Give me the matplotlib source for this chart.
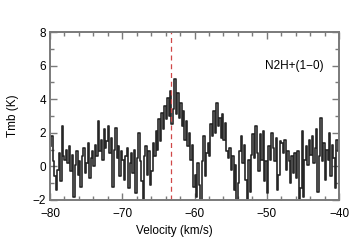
import numpy as np
import matplotlib
matplotlib.use('Agg')
import matplotlib.pyplot as plt
from matplotlib.ticker import MultipleLocator

plt.rcParams['font.family'] = ['Liberation Sans', 'DejaVu Sans']

# spectrum, 0.2 km/s channels from -80 to -40 km/s
v_start = -80.0
dv = 0.2
tmb = [
    1.2, 1.8, 0.3, -0.6, -1.4, -0.2, 0.8, -0.9, 2.4, 0.6,
    0.4, 1.0, 0.2, 1.2, -0.3, 0.7, -1.8, 0.1, 0.9, -0.5,
    0.3, -1.2, 0.6, 1.1, -0.4, 0.2, 1.4, -0.7, 0.5, 0.9,
    0.0, 1.3, 0.6, 2.7, 0.9, 1.6, 0.4, 2.2, 1.1, 1.5,
    2.4, 0.8, 1.7, -1.2, 1.0, 2.3, 0.5, 1.2, -0.6, 0.9,
    0.4, -0.8, 0.6, 1.1, -1.3, 0.2, 0.8, -0.4, 1.0, -1.6,
    0.5, 2.0, 0.3, -0.9, -2.0, 0.6, 1.2, -0.5, 0.9, -1.1,
    -0.3, 1.4, 0.6, 2.1, 1.0, 2.8, 1.5, 3.2, 2.2, 3.6,
    2.8, 4.1, 3.0, 4.5, 2.5, 3.4, 5.2, 3.1, 4.4, 2.9,
    3.8, 2.4, 3.3, 1.6, 2.7, 1.2, 2.0, 0.4, 1.3, -1.2,
    -0.5, -1.8, 0.2, -1.1, -2.0, 0.3, 1.8, -0.6, 0.8, 1.4,
    0.6, 2.5, 1.8, 3.3, 2.0, 3.8, 2.4, 2.9, 1.7, 3.1,
    1.6, 2.6, 0.9, 0.5, 1.1, -0.2, 0.6, -1.4, 0.1, -2.0,
    -1.0, 0.9, 1.8, 0.2, 1.3, -0.8, -2.0, 0.4, -1.5, 0.7,
    1.9, 0.5, 2.4, 0.8, -0.3, 1.9, 0.4, 2.1, -0.9, 0.3,
    -1.6, 1.2, 0.4, 2.0, 1.1, 0.3, 1.7, -1.4, -0.5, 1.5,
    1.4, 0.8, 1.6, -0.2, 0.9, 0.3, -1.0, 0.6, -0.4, 0.8,
    -0.7, 0.9, -2.0, -1.3, 2.1, -1.8, 0.4, 1.2, 0.1, 1.6,
    0.7, 1.8, 0.2, 1.1, 2.2, -1.5, 0.6, 2.9, 0.3, 1.4,
    -0.8, 1.0, 0.4, 2.0, -0.6, 1.3, 0.5, -1.3, 1.6, 0.9,
]
vel = v_start + dv / 2 + dv * np.arange(len(tmb))
v_sys = -63.3
line_name = 'N2H+(1\u22120)'

fig = plt.figure(figsize=(3.6, 2.49), dpi=100)
ax = fig.add_axes([0.139, 0.197, 0.803, 0.674])

ax.step(vel, tmb, where='mid', color='#262626', lw=1.2)
ax.axvline(v_sys, color='#d04848', lw=0.9, ls=(0, (4, 3)))

ax.set_xlim(-80, -40)
ax.set_ylim(-2, 8)
ax.xaxis.set_major_locator(MultipleLocator(10))
ax.xaxis.set_minor_locator(MultipleLocator(2))
ax.yaxis.set_major_locator(MultipleLocator(2))
ax.yaxis.set_minor_locator(MultipleLocator(1))

for s in ax.spines.values():
    s.set_color('#7a7a7a')
    s.set_linewidth(1.4)
ax.tick_params(which='both', direction='in', top=True, right=True,
               color='#7a7a7a', labelsize=8.5, width=1.0)
ax.tick_params(axis='x', pad=6)
ax.tick_params(axis='y', pad=3)
ax.tick_params(which='major', length=5)
ax.tick_params(which='minor', length=3)

ax.set_xlabel('Velocity (km/s)', fontsize=8.5)
ax.xaxis.set_label_coords(0.43, -0.15)
ax.set_ylabel('Tmb (K)', fontsize=8.5, labelpad=10)
ax.text(-42.1, 6.0, line_name, fontsize=8.5, ha='right', va='center')

fig.savefig('out.png', dpi=100)
